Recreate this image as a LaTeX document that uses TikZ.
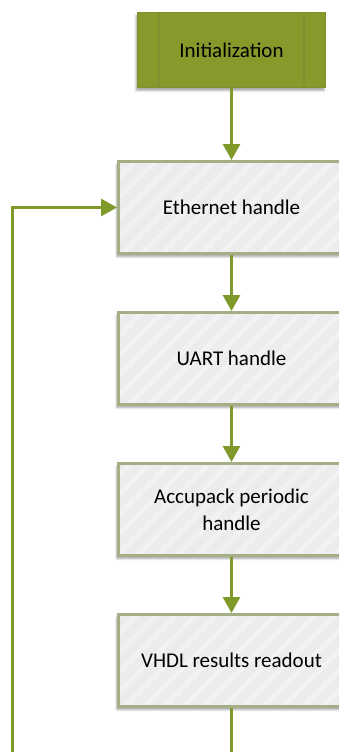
\documentclass[tikz,border=0pt]{standalone}
\usepackage{fontspec}
\setmainfont{Carlito}
\usepackage{tikz}
\usetikzlibrary{positioning, arrows.meta, patterns.meta, shadows.blur}

\definecolor{olivefill}{HTML}{87992B}
\definecolor{oliveedge}{HTML}{7E9030}
\definecolor{flowgreen}{HTML}{7F9A2A}
\definecolor{boxedge}{HTML}{A5AF86}
\definecolor{boxfill}{HTML}{ECECEC}

\begin{document}
\begin{tikzpicture}[
        node distance = 56pt,
        softshadow/.style = {blur shadow={shadow xshift=-1.5pt, shadow yshift=-3pt, shadow blur steps=6, shadow opacity=35}},
        initbox/.style = {draw=oliveedge, line width=1pt, fill=olivefill, minimum width=188pt, minimum height=75pt,
                          align=center, font=\fontsize{21}{26}\selectfont, softshadow},
        initline/.style = {draw=oliveedge, line width=1.2pt},
        % stripes go over the fill, the border comes last
        taskbox/.style = {fill=boxfill, line width=2.6pt,
                          postaction={pattern={Lines[angle=45, distance=14pt, line width=5pt]}, pattern color=white!30!boxfill},
                          postaction={draw=boxedge},
                          minimum width=226.4pt, minimum height=92.4pt, align=center,
                          font=\fontsize{21}{27}\selectfont, softshadow},
        flow/.style = {draw=flowgreen, line width=3pt, -{Triangle[length=16pt, width=17pt]}},
    ]
        \useasboundingbox (0,0) rectangle (339pt,-752pt);
        \node[initbox] (init) at (231.5pt,-50pt) {Initialization};
        \draw[initline] ([xshift=22pt]init.north west) -- ([xshift=22pt]init.south west);
        \draw[initline] ([xshift=-22pt]init.north east) -- ([xshift=-22pt]init.south east);
        \node[taskbox, below=72pt of init] (eth) {Ethernet handle};
        \node[taskbox, below=of eth] (uart) {UART handle};
        \node[taskbox, below=of uart] (accu) {Accupack periodic\\handle};
        \node[taskbox, below=of accu] (vhdl) {VHDL results readout};
        % return path runs below the page edge
        \coordinate (back) at (12pt,-790pt);
        \draw[flow] (init) -- (eth);
        \draw[flow] (eth) -- (uart);
        \draw[flow] (uart) -- (accu);
        \draw[flow] (accu) -- (vhdl);
        \draw[flow] (vhdl.south) |- (back) |- (eth.west);
    \end{tikzpicture}
\end{document}
